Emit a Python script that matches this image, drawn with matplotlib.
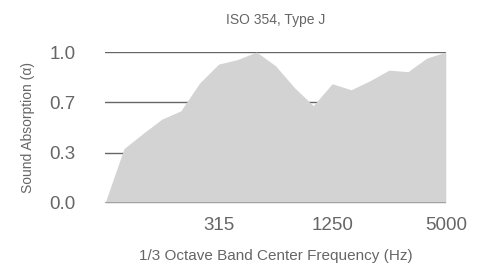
"""Sound absorption area chart (ISO 354, Type J)."""

import matplotlib

matplotlib.use("Agg")
import matplotlib.pyplot as plt
import numpy as np

# 1/3 octave band centre frequencies (Hz) and absorption coefficients
freqs = [80, 100, 125, 160, 200, 250, 315, 400, 500, 630,
         800, 1000, 1250, 1600, 2000, 2500, 3150, 4000, 5000]
alpha = [0.0, 0.36, 0.46, 0.555, 0.61, 0.795, 0.92, 0.95, 1.0, 0.91,
         0.765, 0.645, 0.79, 0.75, 0.81, 0.88, 0.87, 0.96, 1.0]
shown_freqs = [315, 1250, 5000]
y_ticks = [0.0, 1 / 3, 2 / 3, 1.0]
y_labels = ["0.0", "0.3", "0.7", "1.0"]

plt.rcParams["font.family"] = ["Liberation Sans", "DejaVu Sans"]
text_col = "#666666"

fig = plt.figure(figsize=(4.84, 2.71), dpi=100)
ax = fig.add_axes([0.217, 0.251, 0.704, 0.557])

x = np.arange(len(freqs))
for yv in y_ticks[1:]:
    ax.axhline(yv, color="#666666", linewidth=1.0, zorder=1)
ax.fill_between(x, alpha, 0, color="#d3d3d3", linewidth=0, zorder=2)
ax.axhline(0, color="#999999", linewidth=1.2, zorder=3)

ax.set_xlim(0, len(freqs) - 1)
ax.set_ylim(0, 1.0)
ax.set_xticks([freqs.index(f) for f in shown_freqs])
ax.set_xticklabels([str(f) for f in shown_freqs])
ax.set_yticks(y_ticks)
ax.set_yticklabels(y_labels)
ax.tick_params(axis="both", length=0, labelsize=13.5, labelcolor=text_col)
ax.tick_params(axis="y", pad=21)
ax.tick_params(axis="x", pad=10)
for s in ax.spines.values():
    s.set_visible(False)

ax.set_title("ISO 354, Type J", fontsize=10, color=text_col, pad=20)
ax.set_ylabel("Sound Absorption (α)", fontsize=10, color=text_col)
ax.yaxis.set_label_coords(-0.205, 0.5)
ax.set_xlabel("1/3 Octave Band Center Frequency (Hz)", fontsize=11,
              color=text_col, labelpad=11)

fig.savefig("out.png", dpi=100)
plt.close(fig)
